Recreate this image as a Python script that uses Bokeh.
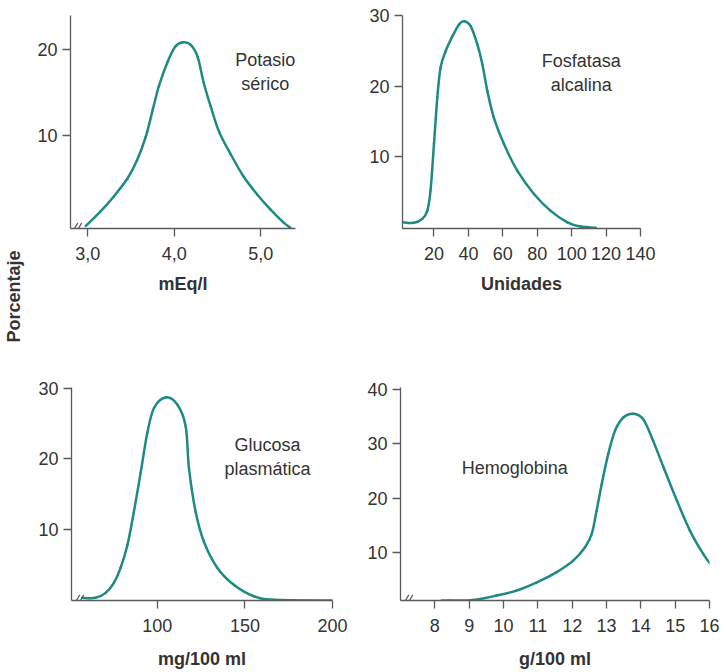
import math
from bokeh.plotting import figure
from bokeh.models import Range1d, FixedTicker, ColumnDataSource
from bokeh.layouts import column, row
from bokeh.core.properties import value
from bokeh.embed import file_html
from bokeh.resources import INLINE

# ---------------- data ----------------
potasio_x = [2.977, 3.15, 3.30, 3.46, 3.57, 3.67, 3.75, 3.82, 3.92, 4.01, 4.10, 4.19,
             4.27, 4.34, 4.42, 4.52, 4.65, 4.80, 4.96, 5.11, 5.26, 5.34]
potasio_y = [-0.4, 1.3, 3.0, 5.1, 7.2, 9.9, 13.0, 15.7, 18.5, 20.3, 20.8, 20.5,
             19.1, 16.1, 13.4, 10.4, 7.9, 5.3, 3.2, 1.5, 0.0, -0.6]

fosfatasa_x = [1.7, 8.3, 13.2, 16.1, 18.0, 20.0, 21.9, 23.8, 26.7, 30.6, 34.5, 37.4,
               41.3, 45.2, 48.1, 51.0, 54.8, 60.6, 68.4, 78.1, 87.8, 97.5, 105.2, 114.0]
fosfatasa_y = [0.7, 0.6, 1.16, 2.3, 5.2, 11.8, 18.3, 22.6, 24.9, 27.0, 28.7, 29.2,
               28.5, 25.9, 23.1, 19.3, 15.5, 11.8, 8.0, 4.7, 2.3, 0.68, 0.07, -0.1]

glucosa_x = [57.1, 64.7, 70.5, 75.2, 79.0, 82.9, 86.6, 90.5, 94.3, 98.1, 104.7, 111.4,
             116.2, 118.1, 121.9, 126.6, 134.3, 143.8, 155.2, 166.6, 200.0]
glucosa_y = [0.38, 0.38, 1.08, 2.5, 4.6, 7.8, 12.5, 18.1, 23.7, 27.2, 28.7, 27.7,
             24.6, 18.6, 12.5, 8.3, 4.6, 2.2, 0.6, 0.1, 0.0]

hemo_x = [8.2, 8.44, 9.12, 9.80, 10.38, 10.97, 11.55, 12.03, 12.37, 12.57, 12.71, 12.86,
          13.05, 13.25, 13.49, 13.78, 14.07, 14.36, 14.66, 15.05, 15.43, 15.82, 16.10]
hemo_y = [1.3, 1.3, 1.4, 2.2, 3.1, 4.6, 6.5, 8.6, 11.0, 13.5, 17.7, 22.6,
          28.1, 32.4, 34.8, 35.5, 34.5, 30.5, 25.7, 19.6, 14.1, 9.8, 7.4]

potasio_xticks = [3, 4, 5]
potasio_xlabels = ["3,0", "4,0", "5,0"]
potasio_yticks = [10, 20]
fosfatasa_xticks = [20, 40, 60, 80, 100, 120, 140]
fosfatasa_yticks = [10, 20, 30]
glucosa_xticks = [100, 150, 200]
glucosa_yticks = [10, 20, 30]
hemo_xticks = [8, 9, 10, 11, 12, 13, 14, 15, 16]
hemo_yticks = [10, 20, 30, 40]

titles = ["Potasio\nsérico", "Fosfatasa\nalcalina", "Glucosa\nplasmática", "Hemoglobina"]
xlabels = ["mEq/l", "Unidades", "mg/100 ml", "g/100 ml"]
ylabel = "Porcentaje"

CURVE = "#1e8a84"
AXIS = "#5a5a5a"
TEXT = "#333333"
FONT = "Liberation Sans"


def make_fig(w, h, bl, br, bt, bb, xr, yr, xticks, yticks, xlab, tick_standoff, label_standoff):
    p = figure(width=w, height=h, output_backend="svg", toolbar_location=None,
               x_range=Range1d(*xr), y_range=Range1d(*yr),
               min_border_left=bl, min_border_right=br,
               min_border_top=bt, min_border_bottom=bb)
    p.outline_line_color = None
    p.xgrid.visible = False
    p.ygrid.visible = False
    p.background_fill_color = "white"
    p.border_fill_color = "white"
    for ax in (p.xaxis[0], p.yaxis[0]):
        ax.axis_line_color = AXIS
        ax.axis_line_width = 1.3
        ax.major_tick_line_color = AXIS
        ax.major_tick_line_width = 1.3
        ax.major_tick_out = 8
        ax.major_tick_in = 0
        ax.minor_tick_line_color = None
        ax.major_label_text_font = FONT
        ax.major_label_text_font_size = "18px"
        ax.major_label_text_color = TEXT
    p.xaxis[0].ticker = FixedTicker(ticks=xticks)
    p.yaxis[0].ticker = FixedTicker(ticks=yticks)
    p.xaxis[0].major_label_standoff = tick_standoff
    p.yaxis[0].major_label_standoff = 5
    p.xaxis[0].axis_label = xlab
    p.xaxis[0].axis_label_text_font = FONT
    p.xaxis[0].axis_label_text_font_style = "bold"
    p.xaxis[0].axis_label_text_font_size = "18px"
    p.xaxis[0].axis_label_text_color = TEXT
    p.xaxis[0].axis_label_standoff = label_standoff
    return p


def smooth_curve(p, xs, ys):
    # draw the read points joined by a smooth (Catmull-Rom) bezier path
    n = len(xs)
    d = dict(x0=[], y0=[], x1=[], y1=[], cx0=[], cy0=[], cx1=[], cy1=[])
    for i in range(n - 1):
        a = i - 1 if i > 0 else i
        b = i + 2 if i + 2 < n else i + 1
        d["x0"].append(xs[i]); d["y0"].append(ys[i])
        d["x1"].append(xs[i + 1]); d["y1"].append(ys[i + 1])
        d["cx0"].append(xs[i] + (xs[i + 1] - xs[a]) / 6.0)
        d["cy0"].append(ys[i] + (ys[i + 1] - ys[a]) / 6.0)
        d["cx1"].append(xs[i + 1] - (xs[b] - xs[i]) / 6.0)
        d["cy1"].append(ys[i + 1] - (ys[b] - ys[i]) / 6.0)
    src = ColumnDataSource(d)
    p.bezier(x0="x0", y0="y0", x1="x1", y1="y1", cx0="cx0", cy0="cy0",
             cx1="cx1", cy1="cy1", source=src, line_color=CURVE, line_width=2.5,
             line_cap="round")


def add_break(p, xr, frame_w, px_offsets):
    # small "//" break mark on the x axis near the origin
    upx = (xr[1] - xr[0]) / frame_w
    xs = [xr[0] + o * upx for o in px_offsets]
    ys = [p.y_range.start] * len(xs)
    p.scatter(xs, ys, marker="dash", size=13, angle=1.05, line_color=AXIS, line_width=1.2)


def add_title(p, x, y, txt):
    src = ColumnDataSource(dict(x=[x], y=[y], t=[txt]))
    p.text("x", "y", text="t", source=src, text_font=value(FONT),
           text_font_size=value("18px"), text_color=TEXT, text_align="center",
           text_baseline="middle", text_line_height=1.2)


# ---- strip holding the shared "Porcentaje" label
strip = figure(width=26, height=672, output_backend="svg", toolbar_location=None,
               x_range=Range1d(0, 1), y_range=Range1d(0, 672),
               x_axis_location=None, y_axis_location=None,
               min_border_left=0, min_border_right=0, min_border_top=0, min_border_bottom=0)
strip.outline_line_color = None
strip.xgrid.visible = False
strip.ygrid.visible = False
strip.text([0.5], [376], text=[ylabel], angle=math.pi / 2, text_align="center",
           text_baseline="middle", text_font=value(FONT), text_font_style="bold",
           text_font_size=value("18px"), text_color=TEXT)

# ---- panel 1: potasio
xr1, yr1 = (2.80, 5.40), (-0.7, 23.9)
p1 = make_fig(334, 345, 44, 65, 15, 116, xr1, yr1, potasio_xticks, potasio_yticks,
              xlabels[0], 10, 11)
p1.xaxis[0].major_label_overrides = {t: l for t, l in zip(potasio_xticks, potasio_xlabels)}
smooth_curve(p1, potasio_x, potasio_y)
add_break(p1, xr1, 225, [4, 8])
add_title(p1, 5.05, 17.4, titles[0])

# ---- panel 2: fosfatasa
xr2, yr2 = (1.7, 140.0), (-0.2, 30.0)
p2 = make_fig(361, 345, 42, 81, 14, 117, xr2, yr2, fosfatasa_xticks, fosfatasa_yticks,
              xlabels[1], 10, 11)
smooth_curve(p2, fosfatasa_x, fosfatasa_y)
add_title(p2, 105.6, 21.9, titles[1])

# ---- panel 3: glucosa
xr3, yr3 = (51.0, 200.0), (0.0, 30.1)
p3 = make_fig(334, 327, 45, 28, 41, 71, xr3, yr3, glucosa_xticks, glucosa_yticks,
              xlabels[2], 10, 14)
smooth_curve(p3, glucosa_x, glucosa_y)
add_break(p3, xr3, 261, [5, 9])
add_title(p3, 162.9, 20.3, titles[2])

# ---- panel 4: hemoglobina
xr4, yr4 = (7.0, 16.0), (1.3, 40.3)
p4 = make_fig(361, 327, 40, 12, 42, 72, xr4, yr4, hemo_xticks, hemo_yticks,
              xlabels[3], 10, 14)
smooth_curve(p4, hemo_x, hemo_y)
add_break(p4, xr4, 309, [5, 9])
add_title(p4, 10.33, 25.5, titles[3])

layout = row(strip, column(row(p1, p2), row(p3, p4)))
open("out.html", "w").write(file_html(layout, INLINE))
